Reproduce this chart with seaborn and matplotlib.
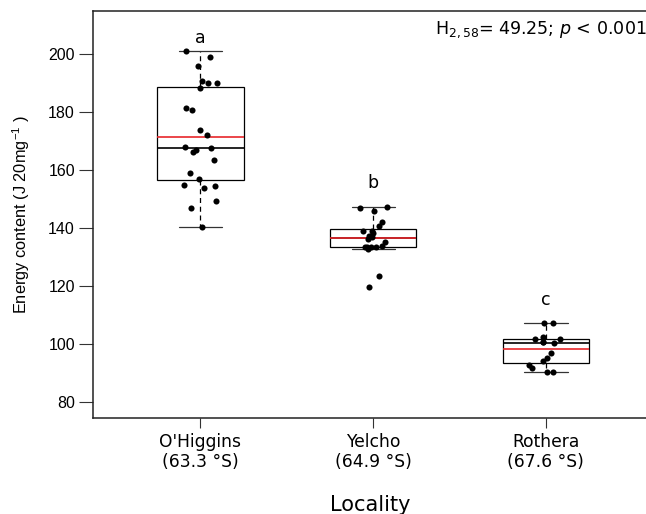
import numpy as np
import pandas as pd
import matplotlib
matplotlib.use("Agg")
import matplotlib.pyplot as plt
import seaborn as sns

# Energy content per locality (J 20mg^-1)
localities = ["O'Higgins\n(63.3 °S)", "Yelcho\n(64.9 °S)", "Rothera\n(67.6 °S)"]
ohiggins = [201.2, 199.2, 195.8, 190.1, 190.1, 190.8, 188.4, 181.6, 180.6,
            173.7, 172.2, 167.7, 167.1, 167.9, 166.3, 163.6, 159.0, 157.1,
            154.4, 155.0, 153.9, 149.5, 147.1, 140.5]
yelcho = [147.2, 147.0, 145.8, 142.0, 140.9, 139.1, 139.0, 138.3, 137.2,
          136.8, 136.3, 135.1, 134.0, 133.5, 133.5, 133.5, 133.5, 132.8,
          123.4, 119.7]
rothera = [107.2, 107.2, 102.5, 101.6, 101.6, 100.4, 100.8, 100.6, 97.0,
           95.2, 94.3, 92.7, 91.6, 90.3, 90.3]
group_letters = ["a", "b", "c"]
letter_heights = [205.7, 155.4, 115.3]
stat_text = r"H$_{2,58}$= 49.25; $\mathit{p}$ < 0.001"
y_ticks = [80, 100, 120, 140, 160, 180, 200]

df = pd.DataFrame({
    "Locality": np.repeat(localities, [len(ohiggins), len(yelcho), len(rothera)]),
    "Energy": ohiggins + yelcho + rothera,
})

sns.set_style("ticks")
plt.rcParams["font.family"] = ["DejaVu Sans"]
plt.rcParams["mathtext.fontset"] = "dejavusans"
plt.rcParams["text.color"] = "black"
plt.rcParams["axes.labelcolor"] = "black"

fig = plt.figure(figsize=(6.46, 5.14), dpi=100)
ax = fig.add_axes([93 / 646, 96 / 514, 554 / 646, 407 / 514])

sns.boxplot(
    data=df, x="Locality", y="Energy", order=localities, ax=ax,
    width=0.5, color="white", linecolor="black", linewidth=0.9,
    showfliers=False, whis=1.5,
    showmeans=True, meanline=True,
    meanprops=dict(color="#e8262a", linestyle="-", linewidth=1.2),
    medianprops=dict(color="black", linewidth=1.2),
    whiskerprops=dict(linestyle=(0, (4, 3)), color="black", linewidth=0.9),
    capprops=dict(color="#333333", linewidth=0.9),
)

np.random.seed(7)
sns.stripplot(
    data=df, x="Locality", y="Energy", order=localities, ax=ax,
    jitter=0.1, color="black", size=4.4, linewidth=0, zorder=5,
)

for i, (lab, yv) in enumerate(zip(group_letters, letter_heights)):
    ax.text(i, yv, lab, ha="center", va="center", fontsize=12.5)

ax.text(0.999, 0.955, stat_text, transform=ax.transAxes, ha="right",
        va="center", fontsize=12.6)

ax.set_xlim(-0.621, 2.585)
ax.set_ylim(74.5, 214.9)
ax.set_yticks(y_ticks)
ax.set_yticklabels([str(v) for v in y_ticks],
                   fontfamily="Liberation Sans", fontsize=11.5)
ax.tick_params(axis="y", length=10, width=0.8, color="#333333",
               labelcolor="black", pad=3)
ax.tick_params(axis="x", length=7.5, width=0.8, color="#333333",
               labelcolor="black", labelsize=12.3, pad=3)

plt.rcParams["mathtext.default"] = "regular"
ax.set_ylabel("Energy content (J 20mg$^{-1}$ )", fontfamily="Liberation Sans",
              fontsize=11.8, labelpad=12)
ax.set_xlabel("Locality", fontsize=15, labelpad=17)

for side in ["left", "top", "bottom"]:
    ax.spines[side].set_visible(True)
    ax.spines[side].set_color("#222222")
    ax.spines[side].set_linewidth(1.1)
ax.spines["right"].set_visible(False)

fig.savefig("out.png", dpi=100)
